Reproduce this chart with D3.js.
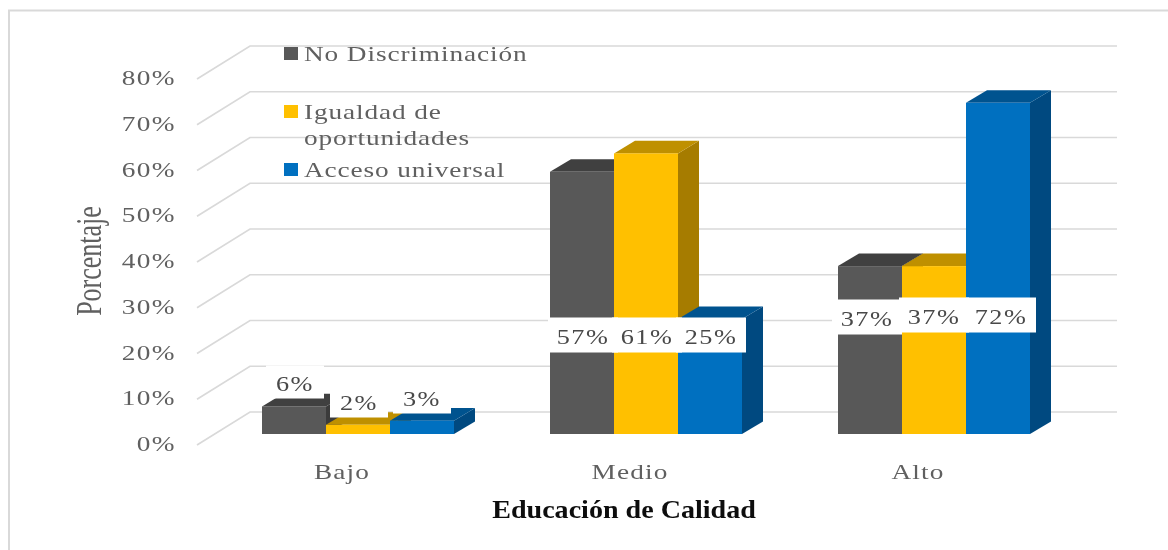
<!DOCTYPE html>
<html><head><meta charset="utf-8">
<script src="https://cdn.jsdelivr.net/npm/d3@7/dist/d3.min.js"></script>
<style>html,body{margin:0;padding:0;background:#fff}svg{display:block}</style>
</head><body><svg id="c" width="1168" height="550"></svg>
<script>
const categories = ["Bajo","Medio","Alto"];
const seriesNames = ["No Discriminación","Igualdad de oportunidades","Acceso universal"];
const noDiscriminacion = [0.06,0.57,0.365];
const igualdad = [0.02,0.61,0.365];
const acceso = [0.029,0.25,0.72];
const yTicks = [0,0.1,0.2,0.3,0.4,0.5,0.6,0.7,0.8];
const frontColors = ["#595959","#ffc000","#0070c0"];
const topColors = ["#404040","#bf9000","#00538f"];
const sideColors = ["#3a3a3a","#a67c00","#004a80"];

const series = [noDiscriminacion,igualdad,acceso];
const svg = d3.select("#c");
svg.append("defs").append("filter").attr("id","soft").append("feGaussianBlur").attr("stdDeviation",0.65);
const g = svg.append("g").attr("filter","url(#soft)");

const SERIF = "Liberation Serif";
function stretched(parent,x,y,sx,size,anchor,fill,str,ls){
  return parent.append("text").attr("transform",`translate(${x},${y}) scale(${sx},1)`)
    .attr("text-anchor",anchor).attr("font-family",SERIF).attr("font-size",size)
    .attr("letter-spacing",ls||0).attr("fill",fill).text(str);
}

g.append("path").attr("d","M9,550V10.5H1168").attr("fill","none").attr("stroke","#d9d9d9").attr("stroke-width",2);

const y = d3.scaleLinear().domain([0,0.8]).range([434,66]);
const x0 = d3.scaleBand().domain(categories).range([214,1078]).paddingInner(1/3).paddingOuter(1/6);
const x1 = d3.scaleBand().domain([0,1,2]).range([0,x0.bandwidth()]);
const dx = 21, dy = 12.6;
const wallDx = 53, wallDy = 33;

const gridFront = d3.scaleLinear().domain([0,0.8]).range([445,79]);
yTicks.forEach(t=>{
  const p = d3.path();
  const yf = gridFront(t);
  p.moveTo(197,yf); p.lineTo(197+wallDx,yf-wallDy); p.lineTo(1117,yf-wallDy);
  g.append("path").attr("d",p.toString()).attr("fill","none").attr("stroke","#d9d9d9").attr("stroke-width",1.7);
});

yTicks.forEach(t=>stretched(g,176,gridFront(t)+6,1.3,21,"end","#606060",d3.format(".0%")(t),1.1));

categories.forEach((c,ci)=>{
  const cg = g.append("g");
  series.forEach((s,si)=>{
    const v = s[ci];
    const xl = x0(c)+x1(si), w = x1.bandwidth(), yt = y(v), yb = y(0);
    const side = d3.path();
    side.moveTo(xl+w,yt); side.lineTo(xl+w+dx,yt-dy); side.lineTo(xl+w+dx,yb-dy); side.lineTo(xl+w,yb); side.closePath();
    cg.append("path").attr("d",side.toString()).attr("fill",sideColors[si]);
    const top = d3.path();
    top.moveTo(xl,yt); top.lineTo(xl+dx,yt-dy); top.lineTo(xl+w+dx,yt-dy); top.lineTo(xl+w,yt); top.closePath();
    cg.append("path").attr("d",top.toString()).attr("fill",topColors[si]);
    cg.append("rect").attr("x",xl).attr("y",yt).attr("width",w).attr("height",yb-yt).attr("fill",frontColors[si]);
  });
});

// data labels sit in white boxes, placed by hand in the original
const labelDx = [[1,1,0],[1,1,1],[-3,0,3]];
const labelCy = [[382,401,397],[335,335,335],[317,315,315]];
const boxW = [58,70,70];
const boxH = [33,35,35];
const fmt = d3.format(".0%");
const labelCx = (ci,si)=>x0(categories[ci])+x1(si)+x1.bandwidth()/2+labelDx[ci][si];
categories.forEach((c,ci)=>series.forEach((s,si)=>{
  g.append("rect").attr("x",labelCx(ci,si)-boxW[ci]/2).attr("y",labelCy[ci][si]-boxH[ci]/2)
    .attr("width",boxW[ci]).attr("height",boxH[ci]).attr("fill","#fff");
}));
categories.forEach((c,ci)=>series.forEach((s,si)=>{
  stretched(g,labelCx(ci,si),labelCy[ci][si]+8.5,1.25,21,"middle","#484848",fmt(s[ci]),1.2);
}));

categories.forEach(c=>stretched(g,x0(c)+x0.bandwidth()/2-16,479,1.3,21,"middle","#606060",c,0.9));

stretched(g,624,518,1.08,26,"middle","#111","Educación de Calidad").attr("font-weight","bold");
g.append("text").attr("transform","translate(101,261) scale(1.4,1) rotate(-90)").attr("text-anchor","middle")
  .attr("font-family",SERIF).attr("font-size",26).attr("fill","#606060").text("Porcentaje");

const swatchY = [47,105,163];
const legendLines = [[seriesNames[0]],["Igualdad de","oportunidades"],[seriesNames[2]]];
const baselines = [[61],[119,145],[177]];
legendLines.forEach((ls,i)=>{
  g.append("rect").attr("x",284).attr("y",swatchY[i]).attr("width",14).attr("height",13).attr("fill",frontColors[i]);
  ls.forEach((l,j)=>stretched(g,304,baselines[i][j],1.3,21,"start","#606060",l,0.68));
});
</script></body></html>
